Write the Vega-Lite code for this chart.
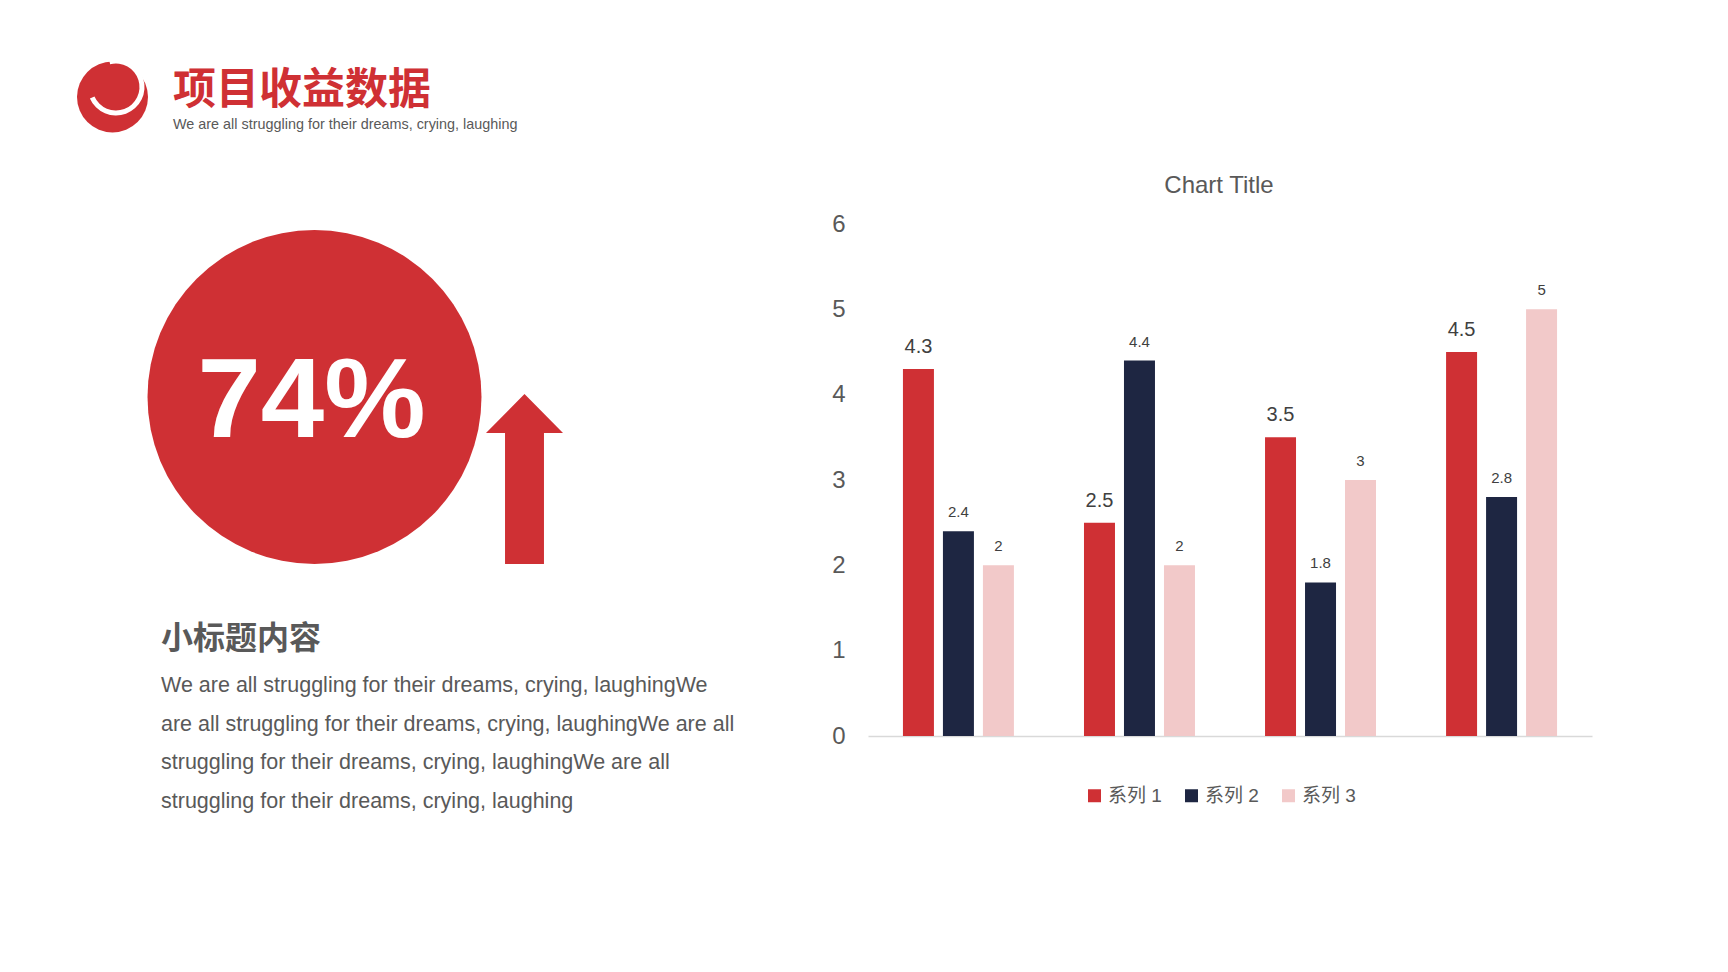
{
  "$schema": "https://vega.github.io/schema/vega-lite/v6.json",
  "autosize": "none",
  "width": 724,
  "height": 512,
  "padding": {"left": 868, "top": 224, "right": 136, "bottom": 236},
  "background": "#FFFFFF",
  "config": {
    "view": {"stroke": null},
    "font": "Liberation Sans"
  },
  "datasets": {
    "bars": [
      {"category": "类别 1", "series": "系列 1", "value": 4.3},
      {"category": "类别 1", "series": "系列 2", "value": 2.4},
      {"category": "类别 1", "series": "系列 3", "value": 2},
      {"category": "类别 2", "series": "系列 1", "value": 2.5},
      {"category": "类别 2", "series": "系列 2", "value": 4.4},
      {"category": "类别 2", "series": "系列 3", "value": 2},
      {"category": "类别 3", "series": "系列 1", "value": 3.5},
      {"category": "类别 3", "series": "系列 2", "value": 1.8},
      {"category": "类别 3", "series": "系列 3", "value": 3},
      {"category": "类别 4", "series": "系列 1", "value": 4.5},
      {"category": "类别 4", "series": "系列 2", "value": 2.8},
      {"category": "类别 4", "series": "系列 3", "value": 5}
    ]
  },
  "layer": [
    {
      "data": {"name": "bars"},
      "mark": {"type": "bar"},
      "encoding": {
        "x": {"field": "category", "type": "nominal", "sort": null,
              "scale": {"paddingInner": 0.387, "paddingOuter": 0.193},
              "axis": {"title": null, "labels": false, "ticks": false, "domainColor": "#D9D9D9", "domainWidth": 1.3, "grid": false}},
        "xOffset": {"field": "series", "type": "nominal", "sort": null, "scale": {"paddingInner": 0.225, "paddingOuter": 0}},
        "y": {"field": "value", "type": "quantitative",
              "scale": {"domain": [0, 6], "nice": false},
              "axis": {"title": null, "values": [0, 1, 2, 3, 4, 5, 6], "format": "d", "domain": false, "ticks": false, "grid": false,
                       "labelFontSize": 24, "labelColor": "#595959", "labelPadding": 23, "labelFont": "Liberation Sans"}},
        "color": {"field": "series", "type": "nominal",
                  "scale": {"domain": ["系列 1", "系列 2", "系列 3"], "range": ["#CF3034", "#1E2642", "#F2C9C9"]},
                  "legend": {"title": null, "orient": "none", "direction": "horizontal", "legendX": 217, "legendY": 562,
                             "symbolType": "square", "symbolSize": 169, "symbolStrokeWidth": 0,
                             "labelFontSize": 19, "labelColor": "#595959", "labelFont": "Liberation Sans, Noto Sans CJK SC",
                             "labelOffset": 4, "columnPadding": 20, "padding": 0,
                             "encode": {"symbols": {"update": {"fill": {"signal": "datum.value === '系列 3' ? '#E9A5A8' : scale('color', datum.value)"}}}}}}
      }
    },
    {
      "data": {"name": "bars"},
      "transform": [{"filter": "datum.series === '系列 1'"}],
      "mark": {"type": "text", "baseline": "alphabetic", "dy": -16, "fontSize": 20, "color": "#404040", "font": "Liberation Sans"},
      "encoding": {
        "x": {"field": "category", "type": "nominal", "sort": null},
        "xOffset": {"field": "series", "type": "nominal", "sort": null},
        "y": {"field": "value", "type": "quantitative"},
        "text": {"field": "value", "type": "quantitative"}
      }
    },
    {
      "data": {"name": "bars"},
      "transform": [{"filter": "datum.series !== '系列 1'"}],
      "mark": {"type": "text", "baseline": "alphabetic", "dy": -14, "fontSize": 15, "color": "#404040", "font": "Liberation Sans"},
      "encoding": {
        "x": {"field": "category", "type": "nominal", "sort": null},
        "xOffset": {"field": "series", "type": "nominal", "sort": null},
        "y": {"field": "value", "type": "quantitative"},
        "text": {"field": "value", "type": "quantitative"}
      }
    },
    {
      "data": {"values": [{"t": "Chart Title"}]},
      "mark": {"type": "text", "align": "center", "baseline": "alphabetic", "fontSize": 24, "color": "#595959", "font": "Liberation Sans", "x": 351, "y": -31},
      "encoding": {"text": {"field": "t", "type": "nominal"}}
    },
    {
      "data": {"values": [{"item": "logo"}]},
      "mark": {"type": "point", "shape": "circle", "filled": true, "opacity": 1, "size": 5041, "color": "#CF3034", "x": -755.5, "y": -127},
      "encoding": {}
    },
    {
      "data": {"values": [{"item": "logo seam"}]},
      "mark": {"type": "arc", "innerRadius": 23.5, "outerRadius": 28.5, "theta": -0.25, "theta2": 4.3, "color": "#FFFFFF", "x": -752, "y": -137},
      "encoding": {}
    },
    {
      "data": {"values": [{"t": "项目收益数据"}]},
      "mark": {"type": "text", "align": "left", "baseline": "middle", "fontSize": 43, "fontWeight": "bold", "color": "#CF3034", "font": "Noto Sans CJK SC", "x": -695, "y": -133},
      "encoding": {"text": {"field": "t", "type": "nominal"}}
    },
    {
      "data": {"values": [{"t": "We are all struggling for their dreams, crying, laughing"}]},
      "mark": {"type": "text", "align": "left", "baseline": "middle", "fontSize": 14.4, "color": "#595959", "font": "Liberation Sans", "x": -695, "y": -99},
      "encoding": {"text": {"field": "t", "type": "nominal"}}
    },
    {
      "data": {"values": [{"share": 0.74}]},
      "mark": {"type": "point", "shape": "circle", "filled": true, "opacity": 1, "size": 111556, "color": "#CF3034", "x": -553.5, "y": 173},
      "encoding": {}
    },
    {
      "data": {"values": [{"share": 0.74}]},
      "mark": {"type": "text", "align": "center", "baseline": "alphabetic", "fontSize": 114, "fontWeight": "bold", "color": "#FFFFFF", "font": "Liberation Sans", "x": -556.5, "y": 213},
      "encoding": {"text": {"field": "share", "type": "quantitative", "format": ".0%"}}
    },
    {
      "data": {"values": [{"item": "up arrow"}]},
      "mark": {"type": "point", "filled": true, "opacity": 1, "size": 28900, "color": "#CF3034",
               "shape": "M0,-1 L0.453,-0.541 L0.229,-0.541 L0.229,1 L-0.229,1 L-0.229,-0.541 L-0.453,-0.541 Z",
               "x": -343.5, "y": 255},
      "encoding": {}
    },
    {
      "data": {"values": [{"t": "小标题内容"}]},
      "mark": {"type": "text", "align": "left", "baseline": "middle", "fontSize": 32, "fontWeight": "bold", "color": "#595959", "font": "Noto Sans CJK SC", "x": -707, "y": 415},
      "encoding": {"text": {"field": "t", "type": "nominal"}}
    },
    {
      "data": {"values": [{"t": ["We are all struggling for their dreams, crying, laughingWe", "are all struggling for their dreams, crying, laughingWe are all", "struggling for their dreams, crying, laughingWe are all", "struggling for their dreams, crying, laughing"]}]},
      "mark": {"type": "text", "align": "left", "baseline": "alphabetic", "fontSize": 21.5, "lineHeight": 38.5, "color": "#595959", "font": "Liberation Sans", "x": -707, "y": 468},
      "encoding": {"text": {"field": "t", "type": "nominal"}}
    }
  ]
}
